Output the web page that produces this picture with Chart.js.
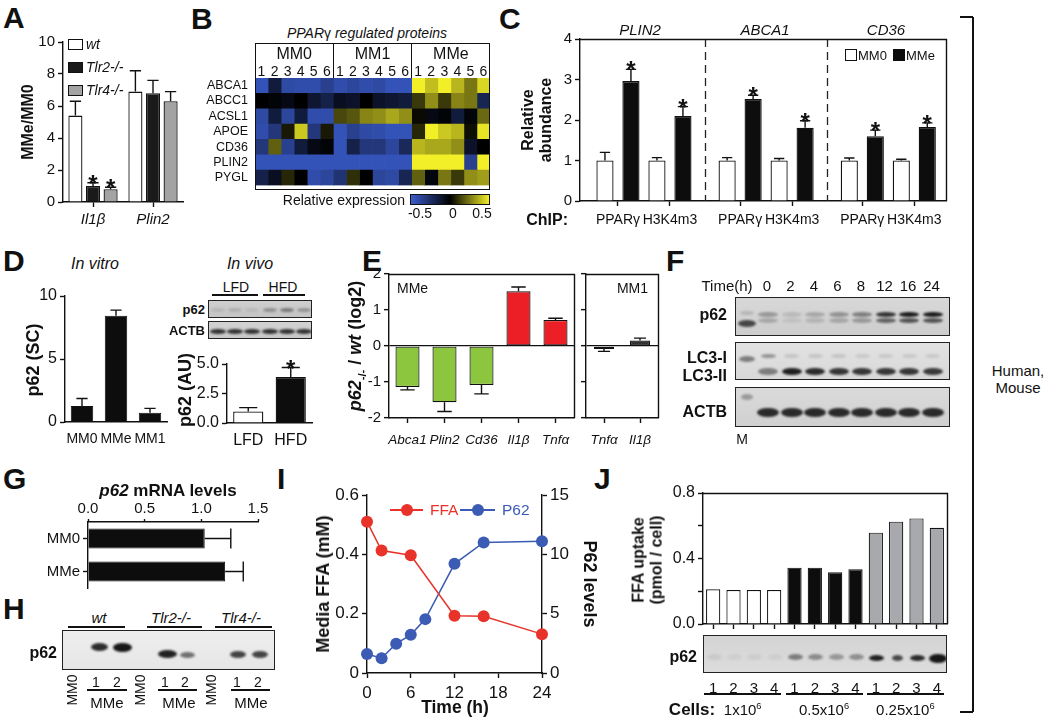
<!DOCTYPE html>
<html>
<head>
<meta charset="utf-8">
<title>p62 / PPARγ figure</title>
<script src="https://cdn.jsdelivr.net/npm/chart.js@4.4.1/dist/chart.umd.min.js"></script>
<style>
  body { margin: 0; background: #fff; }
  #fig { position: relative; width: 1050px; height: 718px; overflow: hidden; background: #fff;
         font-family: 'Liberation Sans', Arial, Helvetica, sans-serif; color: #111; }
  #fig canvas { position: absolute; }
  .t { position: absolute; white-space: nowrap; line-height: 1; }
  .ln { position: absolute; background: #111; }
  .blot { position: absolute; box-sizing: border-box; border: 1.5px solid #222; overflow: hidden; }
  .band { position: absolute; border-radius: 50%; filter: blur(1.3px); }
  sub, sup { font-size: 0.62em; line-height: 0; }
</style>
</head>
<body>
<div id="fig"></div>
<script>
// ---------- data ----------
// A
const aGenes = ['Il1β', 'Plin2'];
const aWt = [5.4, 6.9];
const aWtErr = [0.9, 1.3];
const aTlr2 = [1.0, 6.8];
const aTlr2Err = [0.2, 0.8];
const aTlr4 = [0.8, 6.3];
const aTlr4Err = [0.12, 0.6];

// B  (rows = proteins, columns = MM0 1-6, MM1 1-6, MMe 1-6)
const bProteins = ['ABCA1', 'ABCC1', 'ACSL1', 'APOE', 'CD36', 'PLIN2', 'PYGL'];
const bGroups = ['MM0', 'MM1', 'MMe'];
const bSamples = ['1', '2', '3', '4', '5', '6'];
const bHeat = [
  [-0.45, -0.15, -0.4, -0.42, -0.42, -0.35, -0.42, -0.38, -0.42, -0.4, -0.45, -0.45, 0.5, 0.4, 0.5, 0.38, 0.25, 0.45],
  [0, -0.02, -0.05, 0, -0.12, -0.18, -0.08, -0.1, 0, -0.1, -0.12, -0.15, 0.12, 0.3, 0.12, 0.28, 0.25, -0.2],
  [-0.4, -0.15, -0.38, -0.15, -0.42, -0.42, 0.15, 0.18, 0.28, 0.3, 0.35, 0.3, 0.02, -0.05, -0.02, -0.15, -0.02, 0.22],
  [-0.42, -0.3, 0.05, 0.42, -0.3, 0.05, -0.45, -0.35, -0.4, -0.42, -0.45, -0.45, 0.08, 0.5, 0.42, 0.38, 0.03, 0.48],
  [-0.3, 0.2, -0.35, -0.15, -0.05, -0.02, -0.45, -0.18, -0.3, -0.3, -0.38, -0.22, 0.38, 0.35, 0.35, 0.3, -0.1, 0],
  [-0.45, -0.45, -0.45, -0.45, -0.45, -0.45, -0.45, -0.45, -0.45, -0.45, -0.45, -0.45, 0.5, 0.5, 0.5, 0.5, -0.35, 0.5],
  [-0.18, -0.08, 0.08, 0, -0.42, -0.38, -0.28, 0.1, 0, -0.38, -0.4, -0.2, 0.2, -0.03, 0.25, 0.12, 0.3, 0.33]
];
const bScale = ['-0.5', '0', '0.5'];

// C
const cGenes = ['PLIN2', 'ABCA1', 'CD36'];
const cChip = ['PPARγ', 'H3K4m3', 'PPARγ', 'H3K4m3', 'PPARγ', 'H3K4m3'];
const cPos = [1, 2, 3.35, 4.35, 5.7, 6.7];
const cMM0 = [1.0, 1.0, 1.0, 1.0, 1.0, 1.0];
const cMM0Err = [0.2, 0.07, 0.07, 0.05, 0.06, 0.03];
const cMMe = [2.96, 2.1, 2.52, 1.81, 1.6, 1.83];
const cMMeErr = [0.29, 0.23, 0.09, 0.17, 0.15, 0.1];

// D
const dVitroCats = ['MM0', 'MMe', 'MM1'];
const dVitro = [1.27, 8.43, 0.74];
const dVitroErr = [0.6, 0.45, 0.34];
const dVivoCats = ['LFD', 'HFD'];
const dVivo = [0.97, 3.9];
const dVivoErr = [0.33, 0.8];

// E
const eGenes = ['Abca1', 'Plin2', 'Cd36', 'Il1β', 'Tnfα'];
const eMMe = [-1.14, -1.56, -1.08, 1.52, 0.72];
const eMMeErr = [0.08, 0.26, 0.25, 0.12, 0.05];
const eMM1Genes = ['Tnfα', 'Il1β'];
const eMM1 = [-0.08, 0.15];
const eMM1Err = [0.07, 0.07];

// F (band strength per lane)
const fTimes = ['0', '2', '4', '6', '8', '12', '16', '24'];
const fP62 = [0.3, 0.12, 0.22, 0.32, 0.42, 0.8, 0.92, 0.92];
const fLC3I = [0.35, 0.12, 0.12, 0.12, 0.1, 0.1, 0.1, 0.1];
const fLC3II = [0.45, 0.9, 0.85, 0.8, 0.8, 0.8, 0.8, 0.78];

// G
const gCats = ['MM0', 'MMe'];
const gVals = [1.03, 1.21];
const gErr = [0.23, 0.16];

// I
const iFfaTime = [0, 2, 6, 12, 16, 24];
const iFfa = [0.51, 0.413, 0.397, 0.193, 0.191, 0.131];
const iP62Time = [0, 2, 4, 6, 8, 12, 16, 24];
const iP62 = [1.6, 1.25, 2.47, 3.22, 4.54, 9.2, 11.0, 11.1];

// J
const jLanes = ['1', '2', '3', '4', '1', '2', '3', '4', '1', '2', '3', '4'];
const jGroups = ['1x10<sup>6</sup>', '0.5x10<sup>6</sup>', '0.25x10<sup>6</sup>'];
const jUptake = [0.212, 0.208, 0.208, 0.208, 0.344, 0.344, 0.316, 0.334, 0.558, 0.625, 0.645, 0.588];
const jColors = ['#ffffff', '#0d0d0d', '#a7a9ac'];
const jBand = [0.07, 0.05, 0.06, 0.05, 0.45, 0.38, 0.32, 0.36, 0.9, 0.7, 0.85, 0.95];

// ---------- helpers ----------
const fig = document.getElementById('fig');
const FONT = "'Liberation Sans', Arial, Helvetica, sans-serif";
Chart.defaults.font.family = FONT;
Chart.defaults.color = '#111';

function merge(a, b) {
  for (const k in b) {
    const v = b[k];
    if (v && typeof v === 'object' && !Array.isArray(v) && a[k] && typeof a[k] === 'object') merge(a[k], v);
    else a[k] = v;
  }
  return a;
}

function txt(html, x, y, o = {}) {
  const d = document.createElement('div');
  d.className = 't';
  d.innerHTML = html;
  d.style.fontSize = (o.size || 15) + 'px';
  if (o.bold) d.style.fontWeight = 'bold';
  if (o.italic) d.style.fontStyle = 'italic';
  if (o.color) d.style.color = o.color;
  if (o.lh) { d.style.lineHeight = o.lh; d.style.textAlign = 'center'; }
  d.style.left = x + 'px';
  d.style.top = y + 'px';
  const tx = o.align === 'l' ? '0' : o.align === 'r' ? '-100%' : '-50%';
  d.style.transform = `translate(${tx}, -50%)` + (o.rot ? ` rotate(${o.rot}deg)` : '');
  fig.appendChild(d);
  return d;
}

function letter(ch, x, capTop) {
  txt(ch, x, capTop + 11, {size: 30, bold: true, align: 'l'});
}

function rect(x, y, w, h, css) {
  const d = document.createElement('div');
  d.className = 'ln';
  d.style.cssText += `left:${x}px;top:${y}px;width:${w}px;height:${h}px;` + (css || '');
  fig.appendChild(d);
  return d;
}
const hline = (x1, x2, y, w = 1.3) => rect(x1, y - w / 2, x2 - x1, w);
const vline = (x, y1, y2, w = 1.3) => rect(x - w / 2, y1, w, y2 - y1);

function blot(x, y, w, h, bg, bands) {
  const d = document.createElement('div');
  d.className = 'blot';
  Object.assign(d.style, {left: x + 'px', top: y + 'px', width: w + 'px', height: h + 'px', background: bg});
  bands.forEach(([cx, cy, bw, bh, a]) => {
    const b = document.createElement('div');
    b.className = 'band';
    Object.assign(b.style, {
      left: (cx - x - bw / 2) + 'px', top: (cy - y - bh / 2) + 'px',
      width: bw + 'px', height: bh + 'px', background: `rgba(12,12,12,${a})`
    });
    d.appendChild(b);
  });
  fig.appendChild(d);
}

function axis(pos, extra) {
  return merge({
    position: pos,
    border: {display: true, color: '#111', width: 1.4},
    grid: {display: true, drawOnChartArea: false, drawTicks: true, tickLength: 5, tickColor: '#111', tickWidth: 1.4, offset: false},
    ticks: {color: '#111', font: {size: 15}, padding: 3, autoSkip: false, maxRotation: 0, minRotation: 0}
  }, extra || {});
}

// canvas at box [left, top, w, h]; plot area fixed at page coords area {l,t,r,b}
function chartAt(box, area, cfg) {
  const [l, t, w, h] = box;
  const cv = document.createElement('canvas');
  cv.width = w; cv.height = h;
  cv.style.left = l + 'px'; cv.style.top = t + 'px';
  cv.style.width = w + 'px'; cv.style.height = h + 'px';
  fig.appendChild(cv);
  const pad = {left: area.l - l, right: l + w - area.r, top: area.t - t, bottom: t + h - area.b};
  const o = cfg.options = cfg.options || {};
  const used = {};
  Object.values(o.scales || {}).forEach(s => {
    if (s.display === false) return;
    const p = s.position;
    used[p] = true;
    s.afterFit = sc => { if (p === 'left' || p === 'right') sc.width = pad[p]; else sc.height = pad[p]; };
  });
  o.responsive = false;
  o.animation = false;
  o.events = [];
  o.layout = {padding: {
    left: used.left ? 0 : pad.left, right: used.right ? 0 : pad.right,
    top: used.top ? 0 : pad.top, bottom: used.bottom ? 0 : pad.bottom
  }};
  o.plugins = merge({legend: {display: false}, tooltip: {enabled: false}}, o.plugins || {});
  const ch = new Chart(cv, cfg);
  ch.ox = l; ch.oy = t;
  return ch;
}

// error bars (one-sided, away from zero) + significance stars
Chart.register({
  id: 'errs',
  afterDatasetsDraw(chart) {
    const ctx = chart.ctx;
    chart.data.datasets.forEach((ds, i) => {
      if (!ds.err) return;
      const meta = chart.getDatasetMeta(i);
      const vs = meta.vScale;
      const horiz = vs.axis === 'x';
      ctx.save();
      ctx.strokeStyle = '#111';
      ctx.lineWidth = 1.4;
      meta.data.forEach((el, j) => {
        const val = meta.controller.getParsed(j)[vs.axis];
        const e = ds.err[j];
        const end = vs.getPixelForValue(val + (val < 0 ? -e : e));
        const half = (ds.cap || 0.6) * (horiz ? el.height : el.width) / 2;
        ctx.beginPath();
        if (horiz) {
          ctx.moveTo(el.x, el.y); ctx.lineTo(end, el.y);
          ctx.moveTo(end, el.y - half); ctx.lineTo(end, el.y + half);
        } else {
          ctx.moveTo(el.x, el.y); ctx.lineTo(el.x, end);
          ctx.moveTo(el.x - half, end); ctx.lineTo(el.x + half, end);
        }
        ctx.stroke();
        if (ds.stars && ds.stars[j]) {
          ctx.fillStyle = '#111';
          ctx.font = 'bold 24px ' + FONT;
          ctx.textAlign = 'center';
          ctx.textBaseline = 'alphabetic';
          ctx.fillText('*', el.x, end + 9);
        }
      });
      ctx.restore();
    });
  }
});

// top + right frame lines
Chart.register({
  id: 'frame',
  afterDraw(chart, args, opts) {
    if (!opts.on) return;
    const a = chart.chartArea, ctx = chart.ctx;
    ctx.save();
    ctx.strokeStyle = '#111';
    ctx.lineWidth = 1.4;
    ctx.beginPath();
    ctx.moveTo(a.left, Math.round(a.top) + 0.5);
    ctx.lineTo(Math.round(a.right) + 0.5, Math.round(a.top) + 0.5);
    ctx.lineTo(Math.round(a.right) + 0.5, a.bottom);
    ctx.stroke();
    ctx.restore();
  }
});

// dashed separators
Chart.register({
  id: 'vdash',
  beforeDatasetsDraw(chart, args, opts) {
    if (!opts.at) return;
    const a = chart.chartArea, ctx = chart.ctx, sx = chart.scales.x;
    ctx.save();
    ctx.strokeStyle = '#222';
    ctx.lineWidth = 1.3;
    ctx.setLineDash([8, 5]);
    opts.at.forEach(v => {
      const x = Math.round(sx.getPixelForValue(v)) + 0.5;
      ctx.beginPath(); ctx.moveTo(x, a.top); ctx.lineTo(x, a.bottom); ctx.stroke();
    });
    ctx.restore();
  }
});

function heatColor(v) {
  const t = Math.max(-1, Math.min(1, v / 0.5));
  const c = t < 0 ? [58, 92, 204] : [242, 238, 40];
  const a = Math.abs(t);
  return `rgb(${c.map(x => Math.round(x * a)).join(',')})`;
}

// ---------- panel letters ----------
letter('A', 3, 7);
letter('B', 191, 8);
letter('C', 499, 8);
letter('D', 3, 250);
letter('E', 362, 250);
letter('F', 666, 250);
letter('G', 3, 468);
letter('I', 277, 468);
letter('J', 594, 468);
letter('H', 3, 598);

// ---------- A ----------
chartAt([0, 25, 200, 215], {l: 63, t: 42, r: 183, b: 202}, {
  type: 'bar',
  data: {
    labels: aGenes,
    datasets: [
      {label: 'wt', data: aWt, err: aWtErr, cap: 0.8, backgroundColor: '#ffffff'},
      {label: 'Tlr2-/-', data: aTlr2, err: aTlr2Err, cap: 0.8, stars: [true, false], backgroundColor: '#1a1a1a'},
      {label: 'Tlr4-/-', data: aTlr4, err: aTlr4Err, cap: 0.8, stars: [true, false], backgroundColor: '#a3a3a3'}
    ]
  },
  options: {
    datasets: {bar: {categoryPercentage: 0.88, barPercentage: 0.8, borderColor: '#111', borderWidth: 1.3}},
    scales: {
      x: axis('bottom', {ticks: {font: {size: 15, style: 'italic'}, padding: 4}}),
      y: axis('left', {min: 0, max: 10, ticks: {stepSize: 2}})
    }
  }
});
txt('MMe/MM0', 28, 122, {size: 16, bold: true, rot: -90});
[['wt', '#ffffff'], ['Tlr2-/-', '#1a1a1a'], ['Tlr4-/-', '#a3a3a3']].forEach(([lab, col], i) => {
  const y = 44 + i * 23;
  rect(68, y - 5.5, 15, 11, `background:${col};border:1.3px solid #111;box-sizing:border-box;`);
  txt(lab, 86, y, {size: 14, italic: true, align: 'l'});
});

// ---------- B (heat map) ----------
const heatCols = bGroups.flatMap(g => bSamples.map(s => g + ' ' + s));
chartAt([140, 60, 360, 140], {l: 255, t: 78, r: 490, b: 190}, {
  type: 'bar',
  data: {
    labels: bProteins,
    datasets: heatCols.map((name, j) => ({
      label: name,
      data: bProteins.map(() => 1),
      backgroundColor: bHeat.map(row => heatColor(row[j])),
      borderWidth: 0, barPercentage: 1, categoryPercentage: 1
    }))
  },
  options: {
    indexAxis: 'y',
    scales: {
      x: {position: 'bottom', display: false, stacked: true, min: 0, max: heatCols.length},
      y: {position: 'left', stacked: true, grid: {display: false, drawTicks: false}, border: {display: false},
          ticks: {color: '#111', font: {size: 12.5}, padding: 7, autoSkip: false}}
    }
  }
});
txt('PPAR<span style="font-style:normal">γ</span> regulated proteins', 367, 33, {size: 14, italic: true});
rect(255, 43, 235, 147, 'background:transparent;border:1.3px solid #111;box-sizing:border-box;');
const colW = 235 / heatCols.length;
bGroups.forEach((g, gi) => {
  const x0 = 255 + gi * 6 * colW;
  if (gi > 0) vline(x0, 43, 78);
  txt(g, x0 + 3 * colW, 54, {size: 16});
  bSamples.forEach((s, si) => txt(s, x0 + (si + 0.5) * colW, 71, {size: 14}));
});
txt('Relative expression', 405, 200, {size: 14, align: 'r'});
rect(410, 194, 80, 11, 'background:linear-gradient(to right, rgb(58,92,204), #000 50%, rgb(242,238,40));border:1.2px solid #111;box-sizing:border-box;');
bScale.forEach((s, i) => txt(s, [420, 453, 482][i], 213, {size: 14}));

// ---------- C ----------
chartAt([530, 20, 430, 240], {l: 580, t: 39, r: 946, b: 201}, {
  type: 'bar',
  data: {
    datasets: [
      {label: 'MM0', data: cPos.map((x, i) => ({x, y: cMM0[i]})), err: cMM0Err, backgroundColor: '#ffffff'},
      {label: 'MMe', data: cPos.map((x, i) => ({x, y: cMMe[i]})), err: cMMeErr, stars: cMMe.map(() => true), backgroundColor: '#0d0d0d'}
    ]
  },
  options: {
    datasets: {bar: {categoryPercentage: 1.0, barPercentage: 0.66, borderColor: '#111', borderWidth: 1.3}},
    scales: {
      x: axis('bottom', {
        type: 'linear', min: 0.27, max: 7.31, offset: false,
        afterBuildTicks: s => { s.ticks = cPos.map(v => ({value: v})); },
        ticks: {callback: (v, i) => cChip[i], font: {size: 14}, padding: 6}
      }),
      y: axis('left', {min: 0, max: 4, ticks: {stepSize: 1}})
    },
    plugins: {frame: {on: true}, vdash: {at: [2.675, 5.025]}}
  }
});
cGenes.forEach((g, i) => txt(g, [640, 765, 886][i], 29, {size: 15, italic: true}));
txt('Relative<br>abundance', 537, 120, {size: 16, bold: true, rot: -90, lh: 1.15});
txt('ChIP:', 568, 220, {size: 16, bold: true, align: 'r'});
rect(845, 49, 12, 12, 'background:#fff;border:1.3px solid #111;box-sizing:border-box;');
txt('MM0', 858, 55, {size: 13, align: 'l'});
rect(893, 49, 12, 12, 'background:#0d0d0d;');
txt('MMe', 906, 55, {size: 13, align: 'l'});

// ---------- right bracket ----------
vline(973, 17, 712);
hline(960, 973, 17);
hline(960, 973, 712);
txt('Human,', 1018, 370, {size: 15});
txt('Mouse', 1018, 387, {size: 15});

// ---------- D ----------
txt('In vitro', 95, 264, {size: 16, italic: true});
txt('In vivo', 250, 264, {size: 16, italic: true});
chartAt([30, 280, 150, 180], {l: 65, t: 296, r: 167, b: 422}, {
  type: 'bar',
  data: {labels: dVitroCats, datasets: [{data: dVitro, err: dVitroErr, cap: 0.5, backgroundColor: '#0d0d0d',
    borderColor: '#111', borderWidth: 1, categoryPercentage: 1, barPercentage: 0.66}]},
  options: {
    scales: {
      x: axis('bottom', {grid: {tickColor: 'rgba(0,0,0,0)'}, ticks: {font: {size: 14}, padding: 4}}),
      y: axis('left', {min: 0, max: 10, ticks: {stepSize: 5, font: {size: 16}}})
    }
  }
});
txt('p62 (SC)', 33, 360, {size: 18, bold: true, rot: -90});

const dLanes = [217, 234, 251, 269, 286, 303];
txt('LFD', 236, 287, {size: 14});
txt('HFD', 283, 287, {size: 14});
hline(212, 258, 295, 1.2);
hline(263, 305, 295, 1.2);
blot(208, 300, 104, 18, 'linear-gradient(#cfcfcf,#c4c4c4)',
  dLanes.map((x, i) => [x, 309, 14, 4, [0.1, 0.14, 0.08, 0.3, 0.42, 0.28][i]]));
blot(208, 321, 104, 18, 'linear-gradient(#d2d2d2,#c8c8c8)',
  dLanes.map(x => [x, 330, 16, 5, 0.8]));
txt('p62', 205, 309, {size: 13, bold: true, align: 'r'});
txt('ACTB', 205, 330, {size: 13, bold: true, align: 'r'});

chartAt([195, 350, 130, 110], {l: 227, t: 364, r: 312, b: 423}, {
  type: 'bar',
  data: {labels: dVivoCats, datasets: [{data: dVivo, err: dVivoErr, cap: 0.6, stars: [false, true],
    backgroundColor: ['#ffffff', '#0d0d0d'], borderColor: '#111', borderWidth: 1.3, categoryPercentage: 1, barPercentage: 0.71}]},
  options: {
    scales: {
      x: axis('bottom', {grid: {tickColor: 'rgba(0,0,0,0)'}, ticks: {font: {size: 16}}}),
      y: axis('left', {min: 0, max: 5, ticks: {stepSize: 2.5, font: {size: 16}, callback: v => v.toFixed(1)}})
    }
  }
});
txt('p62 (AU)', 185, 390, {size: 18, bold: true, rot: -90});

// ---------- E ----------
const zeroGrid = {drawOnChartArea: true, lineWidth: 1.3,
  color: c => (c.tick && c.tick.value === 0 ? '#111' : 'rgba(0,0,0,0)')};
chartAt([360, 260, 220, 200], {l: 389, t: 274, r: 574, b: 418}, {
  type: 'bar',
  data: {labels: eGenes, datasets: [{data: eMMe, err: eMMeErr, cap: 0.6,
    backgroundColor: ['#8cc63e', '#8cc63e', '#8cc63e', '#ec1f27', '#ec1f27'],
    borderColor: '#111', borderWidth: 1.2, borderSkipped: false, categoryPercentage: 1, barPercentage: 0.65}]},
  options: {
    scales: {
      x: axis('bottom', {ticks: {font: {size: 13.5, style: 'italic'}, padding: 9}}),
      y: axis('left', {min: -2, max: 2, ticks: {stepSize: 1}, grid: zeroGrid})
    },
    plugins: {frame: {on: true}}
  }
});
chartAt([578, 260, 90, 200], {l: 586, t: 274, r: 658, b: 418}, {
  type: 'bar',
  data: {labels: eMM1Genes, datasets: [{data: eMM1, err: eMM1Err, cap: 0.6,
    backgroundColor: '#333333', borderColor: '#111', borderWidth: 1.2, borderSkipped: false, categoryPercentage: 1, barPercentage: 0.56}]},
  options: {
    scales: {
      x: axis('bottom', {ticks: {font: {size: 13.5, style: 'italic'}, padding: 9}}),
      y: axis('left', {min: -2, max: 2, ticks: {stepSize: 1, callback: () => ''}, grid: zeroGrid})
    },
    plugins: {frame: {on: true}}
  }
});
txt('<i>p62</i><sub>-/-</sub> / <i>wt</i> (log2)', 355, 346, {size: 18, bold: true, rot: -90});
txt('MMe', 397, 288, {size: 14, align: 'l'});
txt('MM1', 648, 288, {size: 14, align: 'r'});

// ---------- F (western blot) ----------
const fX = fTimes.map((_, i) => 767 + i * 23.5);
txt('Time(h)', 727, 285, {size: 15});
fTimes.forEach((t, i) => txt(t, fX[i], 285, {size: 15}));
blot(735, 297, 215, 39, 'linear-gradient(#d8d8d8,#cdcdcd)',
  [[746, 322, 18, 7, 0.7], [746, 312, 14, 4, 0.15]]
    .concat(fX.map((x, i) => [x, 313, 20, 5, fP62[i]]))
    .concat(fX.map((x, i) => [x, 319, 20, 5, fP62[i] * 0.7])));
blot(735, 342, 215, 38, 'linear-gradient(#e2e2e2,#d8d8d8)',
  [[746, 358, 16, 6, 0.45]]
    .concat(fX.map((x, i) => [x, 355, 15, 4, fLC3I[i]]))
    .concat(fX.map((x, i) => [x, 370, 20, 7, fLC3II[i]])));
blot(735, 387, 215, 40, 'linear-gradient(#dadada,#d0d0d0)',
  [[746, 396, 12, 6, 0.3]].concat(fX.map(x => [x, 411, 22, 9, 0.85])));
txt('p62', 727, 315, {size: 16, bold: true, align: 'r'});
txt('LC3-I', 727, 358, {size: 16, bold: true, align: 'r'});
txt('LC3-II', 727, 376, {size: 16, bold: true, align: 'r'});
txt('ACTB', 727, 412, {size: 16, bold: true, align: 'r'});
txt('M', 742, 439, {size: 14});

// ---------- G ----------
chartAt([10, 490, 280, 110], {l: 88, t: 522, r: 258, b: 588}, {
  type: 'bar',
  data: {labels: gCats, datasets: [{data: gVals, err: gErr, cap: 1.0, backgroundColor: '#0d0d0d',
    borderColor: '#111', borderWidth: 1, categoryPercentage: 1, barPercentage: 0.6}]},
  options: {
    indexAxis: 'y',
    scales: {
      x: axis('top', {min: 0, max: 1.5, grid: {tickLength: 3}, ticks: {stepSize: 0.5, padding: 1, callback: v => v.toFixed(1)}}),
      y: axis('left', {})
    }
  }
});
txt('<i>p62</i> mRNA levels', 168, 490, {size: 17, bold: true});

// ---------- H (western blot) ----------
[['wt', 99, 68, 125], ['Tlr2-/-', 171, 147, 202], ['Tlr4-/-', 241, 215, 272]].forEach(([lab, cx, x1, x2]) => {
  txt(lab, cx, 617, {size: 15, italic: true});
  hline(x1, x2, 627, 1.2);
});
blot(62, 630, 213, 40, 'linear-gradient(#eeeeee,#e6e6e6)', [
  [98, 646, 17, 8, 0.85], [121, 646, 19, 9, 0.95],
  [166, 653, 19, 8, 0.9], [186, 654, 15, 6, 0.55],
  [237, 653, 16, 7, 0.75], [259, 653, 16, 7, 0.75]
]);
txt('p62', 57, 653, {size: 16, bold: true, align: 'r'});
[[72, 96, 117, 107, 87, 127], [140, 165, 185, 179, 158, 197], [211, 237, 258, 251, 231, 270]].forEach(([m, l1, l2, mc, u1, u2]) => {
  txt('MM0', m, 690, {size: 14, rot: -90});
  txt('1', l1, 682, {size: 14});
  txt('2', l2, 682, {size: 14});
  hline(u1, u2, 690, 1.2);
  txt('MMe', mc, 702, {size: 15});
});

// ---------- I ----------
const iRed = '#e8332a', iBlue = '#3b5bb4';
chartAt([300, 480, 360, 238], {l: 367, t: 495, r: 542, b: 673}, {
  type: 'line',
  data: {
    datasets: [
      {label: 'FFA', data: iFfaTime.map((x, i) => ({x, y: iFfa[i]})), yAxisID: 'y',
       borderColor: iRed, backgroundColor: iRed, pointRadius: 6, borderWidth: 1.5, pointBorderWidth: 0, clip: false},
      {label: 'P62', data: iP62Time.map((x, i) => ({x, y: iP62[i]})), yAxisID: 'y2',
       borderColor: iBlue, backgroundColor: iBlue, pointRadius: 6, borderWidth: 1.5, pointBorderWidth: 0, clip: false}
    ]
  },
  options: {
    scales: {
      x: axis('bottom', {type: 'linear', min: 0, max: 24, ticks: {stepSize: 6, padding: 5, font: {size: 17}}}),
      y: axis('left', {min: 0, max: 0.6, ticks: {stepSize: 0.2, font: {size: 17}, callback: v => (v === 0 ? '0' : v.toFixed(1))}}),
      y2: axis('right', {min: 0, max: 15, ticks: {stepSize: 5, font: {size: 17}}})
    }
  }
});
[['FFA', iRed, 390, 423, 430], ['P62', iBlue, 460, 495, 502]].forEach(([lab, col, x1, x2, tx]) => {
  rect(x1, 509.25, x2 - x1, 1.5, `background:${col};`);
  rect((x1 + x2) / 2 - 6, 504, 12, 12, `background:${col};border-radius:50%;`);
  txt(lab, tx, 510, {size: 15.5, color: col, align: 'l'});
});
txt('Media FFA (mM)', 323, 584, {size: 18, bold: true, rot: -90});
txt('P62 levels', 590, 584, {size: 18, bold: true, rot: 90});
txt('Time (h)', 455, 708, {size: 17.5, bold: true});

// ---------- J ----------
const jChart = chartAt([640, 480, 320, 160], {l: 703, t: 493, r: 947, b: 624}, {
  type: 'bar',
  data: {labels: jLanes, datasets: [{data: jUptake,
    backgroundColor: jUptake.map((_, i) => jColors[Math.floor(i / 4)]),
    borderColor: '#111', borderWidth: 1.2, categoryPercentage: 1, barPercentage: 0.7}]},
  options: {
    scales: {
      x: axis('bottom', {ticks: {display: false}}),
      y: axis('left', {min: 0, max: 0.8, ticks: {stepSize: 0.2, font: {size: 16},
        callback: v => (Math.abs(v / 0.4 - Math.round(v / 0.4)) < 1e-6 ? v.toFixed(1) : '')}})
    },
    plugins: {frame: {on: true}}
  }
});
const jX = jLanes.map((_, i) => jChart.ox + jChart.scales.x.getPixelForValue(i));
blot(703, 635, 244, 38, 'linear-gradient(#d4d4d4,#dcdcdc)',
  jX.map((x, i) => [x, i < 8 ? 656 : 657, i === 11 ? 18 : i === 9 ? 11 : 15, i === 11 ? 9 : 6, jBand[i]]));
txt('p62', 697, 657, {size: 16, bold: true, align: 'r'});
jLanes.forEach((l, i) => txt(l, jX[i], 687, {size: 15}));
jGroups.forEach((g, gi) => {
  const x1 = jX[gi * 4] - 9, x2 = jX[gi * 4 + 3] + 7;
  hline(x1, x2, 694, 1.2);
  txt(g, (x1 + x2) / 2, 709, {size: 15});
});
txt('Cells:', 692, 709, {size: 17, bold: true});
txt('FFA uptake<br>(pmol / cell)', 648, 560, {size: 16, bold: true, rot: -90, lh: 1.15});
</script>
</body>
</html>
